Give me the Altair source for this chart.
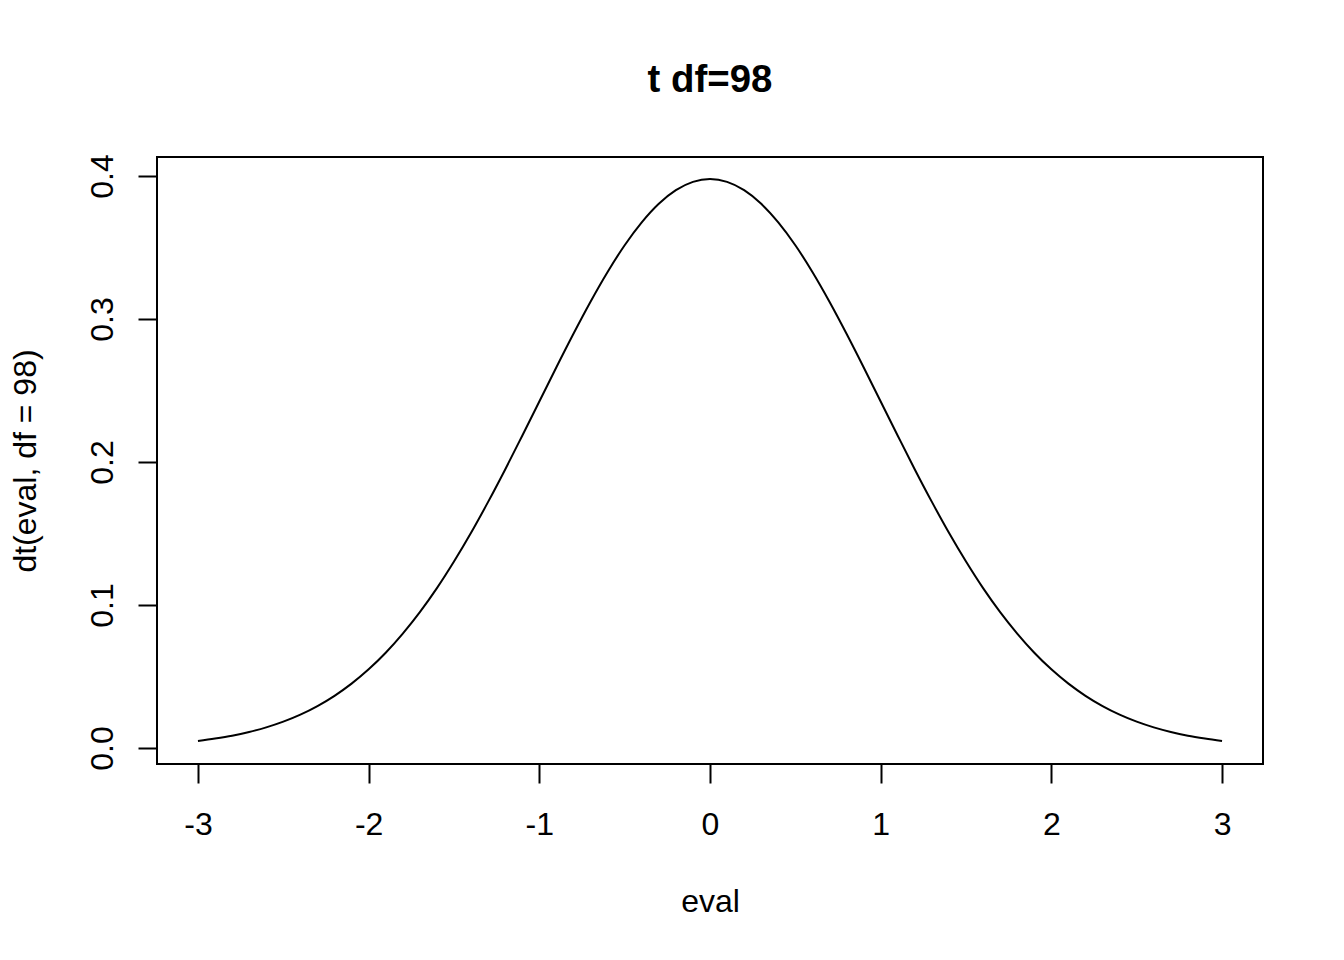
import altair as alt
import pandas as pd

x_vals = [-3.0, -2.9, -2.8, -2.7, -2.6, -2.5, -2.4, -2.3, -2.2, -2.1,
          -2.0, -1.9, -1.8, -1.7, -1.6, -1.5, -1.4, -1.3, -1.2, -1.1,
          -1.0, -0.9, -0.8, -0.7, -0.6, -0.5, -0.4, -0.3, -0.2, -0.1,
          0.0,
          0.1, 0.2, 0.3, 0.4, 0.5, 0.6, 0.7, 0.8, 0.9, 1.0,
          1.1, 1.2, 1.3, 1.4, 1.5, 1.6, 1.7, 1.8, 1.9, 2.0,
          2.1, 2.2, 2.3, 2.4, 2.5, 2.6, 2.7, 2.8, 2.9, 3.0]
dens = [0.0049, 0.0066, 0.0086, 0.0112, 0.0144, 0.0184, 0.0233, 0.0293, 0.0365, 0.0450,
        0.0550, 0.0666, 0.0800, 0.0950, 0.1118, 0.1304, 0.1505, 0.1721, 0.1948, 0.2184,
        0.2423, 0.2663, 0.2897, 0.3121, 0.3329, 0.3516, 0.3676, 0.3806, 0.3901, 0.3959,
        0.3979,
        0.3959, 0.3901, 0.3806, 0.3676, 0.3516, 0.3329, 0.3121, 0.2897, 0.2663, 0.2423,
        0.2184, 0.1948, 0.1721, 0.1505, 0.1304, 0.1118, 0.0950, 0.0800, 0.0666, 0.0550,
        0.0450, 0.0365, 0.0293, 0.0233, 0.0184, 0.0144, 0.0112, 0.0086, 0.0066, 0.0049]
x_ticks = [-3, -2, -1, 0, 1, 2, 3]
y_ticks = [0.0, 0.1, 0.2, 0.3, 0.4]

df = pd.DataFrame({"eval": x_vals, "d": dens})

FONT = "Liberation Sans"

chart = alt.Chart(df).mark_line(color="black", strokeWidth=2, interpolate="monotone").encode(
    x=alt.X("eval:Q",
            scale=alt.Scale(domain=[-3.24, 3.24], nice=False, zero=False),
            axis=alt.Axis(values=x_ticks, labelExpr="'' + datum.value", grid=False, domain=False,
                          tickSize=19, tickWidth=2, tickColor="black",
                          labelFont=FONT, labelFontSize=32, labelColor="black",
                          labelBaseline="alphabetic", labelPadding=51,
                          labelAlign="center",
                          title="eval", titleFont=FONT, titleFontSize=32,
                          titleFontWeight="normal", titleColor="black",
                          titleBaseline="alphabetic", titleAlign="center",
                          titleX=553, titleY=147)),
    y=alt.Y("d:Q",
            scale=alt.Scale(domain=[-0.0112, 0.4133], nice=False, zero=False),
            axis=alt.Axis(values=y_ticks, format=".1f", grid=False, domain=False,
                          tickSize=19, tickWidth=2, tickColor="black",
                          labelFont=FONT, labelFontSize=32, labelColor="black",
                          labelAngle=270, labelAlign="center",
                          labelBaseline="alphabetic", labelPadding=26,
                          title="dt(eval, df = 98)", titleFont=FONT, titleFontSize=32,
                          titleFontWeight="normal", titleColor="black",
                          titleAngle=270, titleBaseline="alphabetic", titleAlign="center",
                          titleX=-122, titleY=303.5)),
).properties(
    width=1106,
    height=607,
    title=alt.TitleParams("t df=98", font=FONT, fontSize=38.4, fontWeight="bold",
                          color="black", anchor="middle", baseline="alphabetic",
                          offset=23),
    padding={"left": 149, "top": 149, "right": 73, "bottom": 188},
    autosize=alt.AutoSizeParams(type="none"),
).configure(background="white").configure_view(stroke="black", strokeWidth=2)

chart.save("out.html", embed_options={"renderer": "svg", "actions": False})
